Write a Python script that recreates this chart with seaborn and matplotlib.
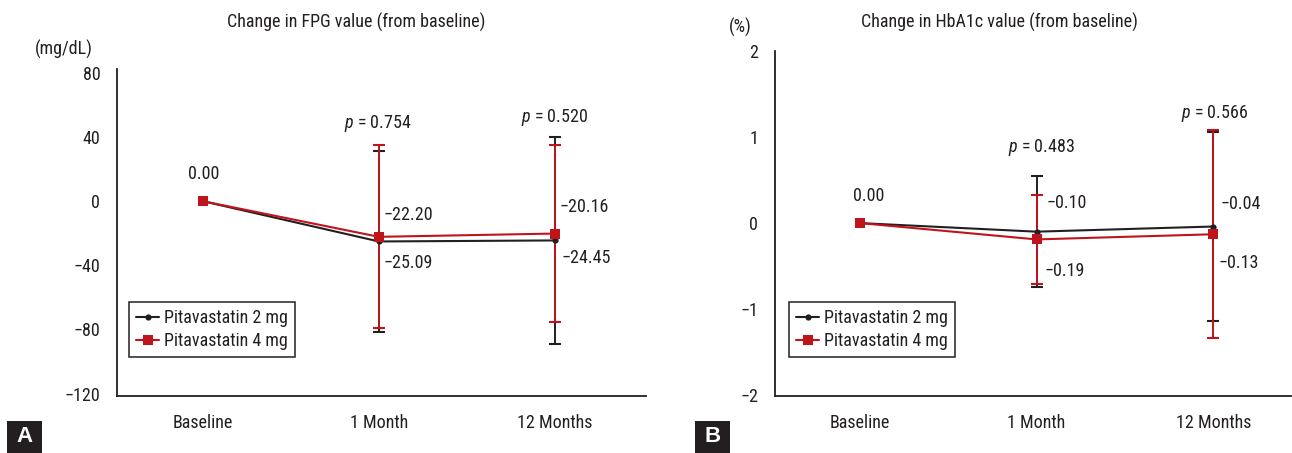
import matplotlib
matplotlib.use("Agg")
import matplotlib.pyplot as plt
import seaborn as sns
import pandas as pd
from matplotlib.patches import Rectangle
from matplotlib import font_manager

sns.set_theme(style="white")
names = {f.name for f in font_manager.fontManager.ttflist}
fam = [f for f in ["Liberation Sans Narrow", "Roboto Condensed", "Open Sans Condensed", "Liberation Sans", "DejaVu Sans"] if f in names]
plt.rcParams['font.family'] = fam
plt.rcParams['mathtext.fontset'] = 'custom'
plt.rcParams['mathtext.rm'] = fam[0]
plt.rcParams['mathtext.it'] = fam[0] + ':italic'

# ---------------- data ----------------
timepoints = ["Baseline", "1 Month", "12 Months"]
series_names = ["Pitavastatin 2 mg", "Pitavastatin 4 mg"]

fpg_2mg = [0.00, -25.09, -24.45]
fpg_4mg = [0.00, -22.20, -20.16]
fpg_2mg_sd = [0.0, 56.6, 64.4]
fpg_4mg_sd = [0.0, 57.0, 55.2]
fpg_p = ["0.754", "0.520"]

hba_2mg = [0.00, -0.10, -0.04]
hba_4mg = [0.00, -0.19, -0.13]
hba_2mg_sd = [0.0, 0.645, 1.095]
hba_4mg_sd = [0.0, 0.52, 1.21]
hba_p = ["0.483", "0.566"]

TXT = "#231f20"
RED = "#c0141c"
BLK = "#231f20"
FS = 13

W, H = 1292, 453
fig = plt.figure(figsize=(W / 100, H / 100), dpi=100)

def axrect(x0, y0, x1, y1):
    return [x0 / W, 1 - y1 / H, (x1 - x0) / W, (y1 - y0) / H]

axA = fig.add_axes(axrect(117, 69, 646, 396))
axB = fig.add_axes(axrect(775, 51, 1291, 396))

def draw(ax, v2, v4, s2, s4, ylim, yticks, yticklabels, xlim):
    pos = list(range(len(timepoints)))
    df = pd.DataFrame({
        "pos": pos * 2,
        "value": v2 + v4,
        "group": [series_names[0]] * 3 + [series_names[1]] * 3,
    })
    ax.errorbar(pos[1:], v2[1:], yerr=s2[1:], fmt="none", ecolor=BLK,
                elinewidth=1.4, capsize=4.5, capthick=1.5, zorder=2)
    ax.errorbar(pos[1:], v4[1:], yerr=s4[1:], fmt="none", ecolor=RED,
                elinewidth=1.4, capsize=4.5, capthick=1.5, zorder=3)
    sns.lineplot(data=df[df.group == series_names[0]], x="pos", y="value",
                 color=BLK, marker="o", markersize=4.5, markeredgewidth=0,
                 linewidth=1.5, ax=ax, label=series_names[0], zorder=4)
    sns.lineplot(data=df[df.group == series_names[1]], x="pos", y="value",
                 color=RED, marker="s", markersize=7, markeredgewidth=0,
                 linewidth=1.5, ax=ax, label=series_names[1], zorder=5)
    ax.set_xlim(*xlim)
    ax.set_ylim(*ylim)
    ax.set_xticks(pos)
    ax.set_xticklabels(timepoints, fontsize=FS, color=TXT)
    ax.set_yticks(yticks)
    ax.set_yticklabels(yticklabels, fontsize=FS, color=TXT)
    ax.set_xlabel("")
    ax.set_ylabel("")
    ax.tick_params(axis="both", length=0)
    ax.tick_params(axis="x", pad=13)
    ax.tick_params(axis="y", pad=12)
    for s in ["top", "right"]:
        ax.spines[s].set_visible(False)
    for s in ["left", "bottom"]:
        ax.spines[s].set_color(TXT)
        ax.spines[s].set_linewidth(1.3)
    ax.set_facecolor("none")
    ax.grid(False)

draw(axA, fpg_2mg, fpg_4mg, fpg_2mg_sd, fpg_4mg_sd, (-121.5, 82.5),
     [80, 40, 0, -40, -80, -120], ["80", "40", "0", "\u221240", "\u221280", "\u2212120"],
     (-0.49, 2.52))
draw(axB, hba_2mg, hba_4mg, hba_2mg_sd, hba_4mg_sd, (-2.01, 2.0),
     [2, 1, 0, -1, -2], ["2", "1", "0", "\u22121", "\u22122"],
     (-0.48, 2.44))

def fig2ax(ax, px, py):
    inv = ax.transAxes.inverted()
    disp = fig.transFigure.transform((px / W, 1 - py / H))
    return inv.transform(disp)

def legend(ax, x0, y0):
    leg = ax.legend(loc="upper left", bbox_to_anchor=(x0, y0), fontsize=FS,
                    frameon=True, fancybox=False, framealpha=1,
                    handlelength=1.3, handletextpad=0.25, borderpad=0.38,
                    labelspacing=0.3, borderaxespad=0)
    leg.get_frame().set_edgecolor(TXT)
    leg.get_frame().set_linewidth(1.1)
    for t in leg.get_texts():
        t.set_color(TXT)

legend(axA, *fig2ax(axA, 129, 302))
legend(axB, *fig2ax(axB, 789, 302))

def ftext(px, py, s, ha="center", va="center", **kw):
    fig.text(px / W, 1 - py / H, s, ha=ha, va=va, fontsize=FS, color=TXT, **kw)

ftext(356, 22, "Change in FPG value (from baseline)")
ftext(999, 22, "Change in HbA1c value (from baseline)")
ftext(64, 49, "(mg/dL)")
ftext(740, 27, "(%)")

ftext(204, 174, "0.00")
ftext(378, 123, r"$\it{p}$ = " + fpg_p[0])
ftext(555, 117, r"$\it{p}$ = " + fpg_p[1])
ftext(384, 215, "\u221222.20", ha="left")
ftext(384, 263, "\u221225.09", ha="left")
ftext(560, 207, "\u221220.16", ha="left")
ftext(562, 258, "\u221224.45", ha="left")

ftext(869, 196, "0.00")
ftext(1042, 148, r"$\it{p}$ = " + hba_p[0])
ftext(1215, 114, r"$\it{p}$ = " + hba_p[1])
ftext(1047, 203, "\u22120.10", ha="left")
ftext(1045, 271, "\u22120.19", ha="left")
ftext(1221, 204, "\u22120.04", ha="left")
ftext(1219, 263, "\u22120.13", ha="left")

for x0, letter in [(7, "A"), (695, "B")]:
    fig.patches.append(Rectangle((x0 / W, 0), 35 / W, 32 / H, transform=fig.transFigure,
                                 facecolor="#231f20", edgecolor="none"))
    fig.text((x0 + 17.5) / W, 16 / H, letter, ha="center", va="center",
             fontsize=16, fontweight="bold", color="white",
             family=["Liberation Sans", "DejaVu Sans"])

fig.savefig("out.png", dpi=100)
